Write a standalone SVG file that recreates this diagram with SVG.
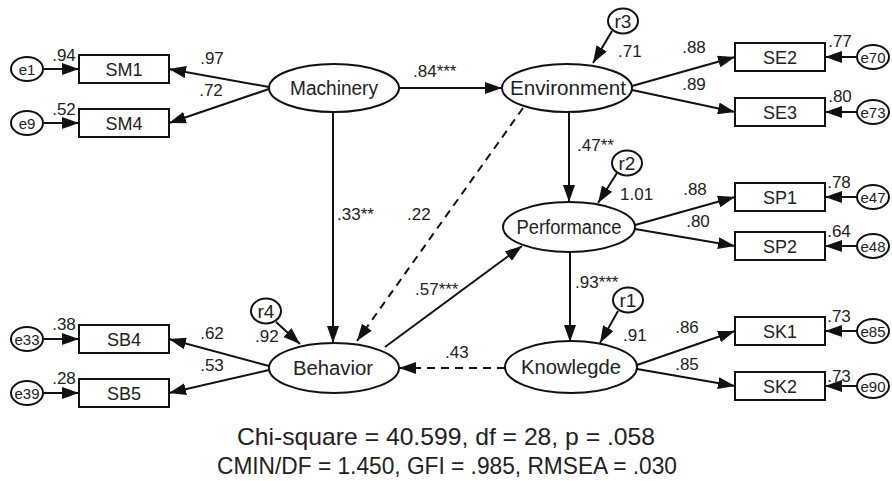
<svg xmlns="http://www.w3.org/2000/svg" width="892" height="481" viewBox="0 0 892 481">
<style>
  .bg{fill:#fff}
  .lat{fill:#fff;stroke:#111;stroke-width:2}
  .box{fill:#fff;stroke:#111;stroke-width:2}
  .err{fill:#fff;stroke:#111;stroke-width:2}
  .name{font-family:"Liberation Sans",Arial,sans-serif;font-size:19.5px;fill:#222;text-anchor:middle}
  .rr{font-family:"Liberation Sans",Arial,sans-serif;font-size:19px;fill:#222;text-anchor:middle}
  .obs{font-family:"Liberation Sans",Arial,sans-serif;font-size:18px;fill:#222;text-anchor:middle}
  .en{font-family:"Liberation Sans",Arial,sans-serif;font-size:15px;fill:#222;text-anchor:middle}
  .lbl{font-family:"Liberation Sans",Arial,sans-serif;font-size:17px;fill:#222}
  .mid{text-anchor:middle}
  .fit{font-family:"Liberation Sans",Arial,sans-serif;font-size:24px;fill:#222;text-anchor:middle}
  .c{fill:none;stroke:#111;stroke-width:2;marker-end:url(#ah)}
  .d{stroke-dasharray:8 6}
</style>
<defs>
  <marker id="ah" markerUnits="userSpaceOnUse" markerWidth="17" markerHeight="12" refX="17" refY="6" orient="auto">
    <path d="M0,0 L17,6 L0,12 z" fill="#111"/>
  </marker>
</defs>
<rect class="bg" x="0" y="0" width="892" height="481"/>

<g id="connectors">
  <path class="c" d="M399,88 L502,88"/>
  <path class="c" d="M333,112 L333,343"/>
  <path class="c d" d="M523,108 L357,341"/>
  <path class="c" d="M569,112 L569,202"/>
  <path class="c" d="M385,347 L522,246"/>
  <path class="c" d="M570,252 L570,342"/>
  <path class="c d" d="M505,368 L399,368"/>
  <path class="c" d="M612,31 L593,63"/>
  <path class="c" d="M617,173 L598,203"/>
  <path class="c" d="M618,311 L600,343"/>
  <path class="c" d="M276,322 L300,344"/>
  <path class="c" d="M269,87 L169,69"/>
  <path class="c" d="M269,89 L169,123"/>
  <path class="c" d="M269,366 L169,339"/>
  <path class="c" d="M269,370 L169,393"/>
  <path class="c" d="M632,86 L735,57"/>
  <path class="c" d="M632,90 L735,112"/>
  <path class="c" d="M635,225 L735,197"/>
  <path class="c" d="M635,229 L735,246"/>
  <path class="c" d="M637,365 L735,331"/>
  <path class="c" d="M637,369 L735,386"/>
  <path class="c" d="M43,69 L79,69"/>
  <path class="c" d="M43,123 L79,123"/>
  <path class="c" d="M43,339 L79,339"/>
  <path class="c" d="M43,393 L79,393"/>
  <path class="c" d="M857,57 L825,57"/>
  <path class="c" d="M857,112 L825,112"/>
  <path class="c" d="M857,197 L825,197"/>
  <path class="c" d="M857,246 L825,246"/>
  <path class="c" d="M857,331 L825,331"/>
  <path class="c" d="M857,386 L825,386"/>
</g>

<g id="Machinery"><ellipse class="lat" cx="334" cy="88" rx="65" ry="24"/><text class="name" x="334" y="95" textLength="88" lengthAdjust="spacingAndGlyphs">Machinery</text></g>
<g id="Environment"><ellipse class="lat" cx="567" cy="88" rx="65" ry="24"/><text class="name" x="568" y="95" textLength="116" lengthAdjust="spacingAndGlyphs">Environment</text></g>
<g id="Performance"><ellipse class="lat" cx="569" cy="227" rx="66" ry="25"/><text class="name" x="569" y="234" textLength="105" lengthAdjust="spacingAndGlyphs">Performance</text></g>
<g id="Knowlegde"><ellipse class="lat" cx="571" cy="367" rx="66" ry="26"/><text class="name" x="571" y="374" textLength="100" lengthAdjust="spacingAndGlyphs">Knowlegde</text></g>
<g id="Behavior"><ellipse class="lat" cx="334" cy="368" rx="65" ry="25"/><text class="name" x="333" y="375" textLength="80" lengthAdjust="spacingAndGlyphs">Behavior</text></g>

<g id="r3"><ellipse class="err" cx="623" cy="21" rx="15" ry="12.5"/><text class="rr" x="623" y="28">r3</text></g>
<g id="r2"><ellipse class="err" cx="627" cy="163" rx="15" ry="12.5"/><text class="rr" x="627" y="170">r2</text></g>
<g id="r1"><ellipse class="err" cx="628" cy="300" rx="15" ry="12.5"/><text class="rr" x="628" y="307">r1</text></g>
<g id="r4"><ellipse class="err" cx="266" cy="311" rx="15" ry="12.5"/><text class="rr" x="266" y="318">r4</text></g>

<g id="SM1"><rect class="box" x="79" y="55" width="90" height="28"/><text class="obs" x="124" y="75.5">SM1</text></g>
<g id="SM4"><rect class="box" x="79" y="109" width="90" height="28"/><text class="obs" x="124" y="129.5">SM4</text></g>
<g id="SB4"><rect class="box" x="79" y="325" width="90" height="28"/><text class="obs" x="124" y="345.5">SB4</text></g>
<g id="SB5"><rect class="box" x="79" y="379" width="90" height="28"/><text class="obs" x="124" y="399.5">SB5</text></g>
<g id="SE2"><rect class="box" x="735" y="43" width="90" height="28"/><text class="obs" x="780" y="63.5">SE2</text></g>
<g id="SE3"><rect class="box" x="735" y="98" width="90" height="28"/><text class="obs" x="780" y="118.5">SE3</text></g>
<g id="SP1"><rect class="box" x="735" y="183" width="90" height="28"/><text class="obs" x="780" y="203.5">SP1</text></g>
<g id="SP2"><rect class="box" x="735" y="232" width="90" height="28"/><text class="obs" x="780" y="252.5">SP2</text></g>
<g id="SK1"><rect class="box" x="735" y="317" width="90" height="28"/><text class="obs" x="780" y="337.5">SK1</text></g>
<g id="SK2"><rect class="box" x="735" y="372" width="90" height="28"/><text class="obs" x="780" y="392.5">SK2</text></g>

<g id="e1"><ellipse class="err" cx="27" cy="69" rx="16" ry="12"/><text class="en" x="27" y="74.5">e1</text></g>
<g id="e9"><ellipse class="err" cx="27" cy="123" rx="16" ry="12"/><text class="en" x="27" y="128.5">e9</text></g>
<g id="e33"><ellipse class="err" cx="27" cy="339" rx="16" ry="12"/><text class="en" x="27" y="344.5">e33</text></g>
<g id="e39"><ellipse class="err" cx="27" cy="393" rx="16" ry="12"/><text class="en" x="27" y="398.5">e39</text></g>
<g id="e70"><ellipse class="err" cx="873" cy="57" rx="16" ry="12"/><text class="en" x="873" y="62.5">e70</text></g>
<g id="e73"><ellipse class="err" cx="873" cy="112" rx="16" ry="12"/><text class="en" x="873" y="117.5">e73</text></g>
<g id="e47"><ellipse class="err" cx="873" cy="197" rx="16" ry="12"/><text class="en" x="873" y="202.5">e47</text></g>
<g id="e48"><ellipse class="err" cx="873" cy="246" rx="16" ry="12"/><text class="en" x="873" y="251.5">e48</text></g>
<g id="e85"><ellipse class="err" cx="873" cy="331" rx="16" ry="12"/><text class="en" x="873" y="336.5">e85</text></g>
<g id="e90"><ellipse class="err" cx="873" cy="386" rx="16" ry="12"/><text class="en" x="873" y="391.5">e90</text></g>

<g id="labels">
  <text class="lbl mid" x="64" y="61">.94</text>
  <text class="lbl mid" x="64" y="115">.52</text>
  <text class="lbl mid" x="64" y="330">.38</text>
  <text class="lbl mid" x="64" y="384">.28</text>
  <text class="lbl mid" x="212" y="64">.97</text>
  <text class="lbl mid" x="211" y="96">.72</text>
  <text class="lbl mid" x="212" y="339">.62</text>
  <text class="lbl mid" x="212" y="371">.53</text>
  <text class="lbl" x="413" y="77">.84***</text>
  <text class="lbl" x="337" y="220">.33**</text>
  <text class="lbl" x="407" y="220">.22</text>
  <text class="lbl" x="577" y="151">.47**</text>
  <text class="lbl" x="620" y="200">1.01</text>
  <text class="lbl" x="415" y="295">.57***</text>
  <text class="lbl" x="575" y="288">.93***</text>
  <text class="lbl" x="623" y="341">.91</text>
  <text class="lbl" x="255" y="342">.92</text>
  <text class="lbl" x="445" y="358">.43</text>
  <text class="lbl" x="618" y="57">.71</text>
  <text class="lbl mid" x="694" y="53">.88</text>
  <text class="lbl mid" x="694" y="90">.89</text>
  <text class="lbl mid" x="840" y="47">.77</text>
  <text class="lbl mid" x="840" y="102">.80</text>
  <text class="lbl mid" x="695" y="195">.88</text>
  <text class="lbl mid" x="698" y="227">.80</text>
  <text class="lbl mid" x="839" y="188">.78</text>
  <text class="lbl mid" x="839" y="237">.64</text>
  <text class="lbl mid" x="687" y="333">.86</text>
  <text class="lbl mid" x="687" y="370">.85</text>
  <text class="lbl mid" x="839" y="322">.73</text>
  <text class="lbl mid" x="839" y="382">.73</text>
</g>

<g id="fit">
  <text class="fit" x="446" y="445" textLength="418" lengthAdjust="spacingAndGlyphs">Chi-square = 40.599, df = 28, p = .058</text>
  <text class="fit" x="447" y="474" textLength="460" lengthAdjust="spacingAndGlyphs">CMIN/DF = 1.450, GFI = .985, RMSEA = .030</text>
</g>
</svg>
